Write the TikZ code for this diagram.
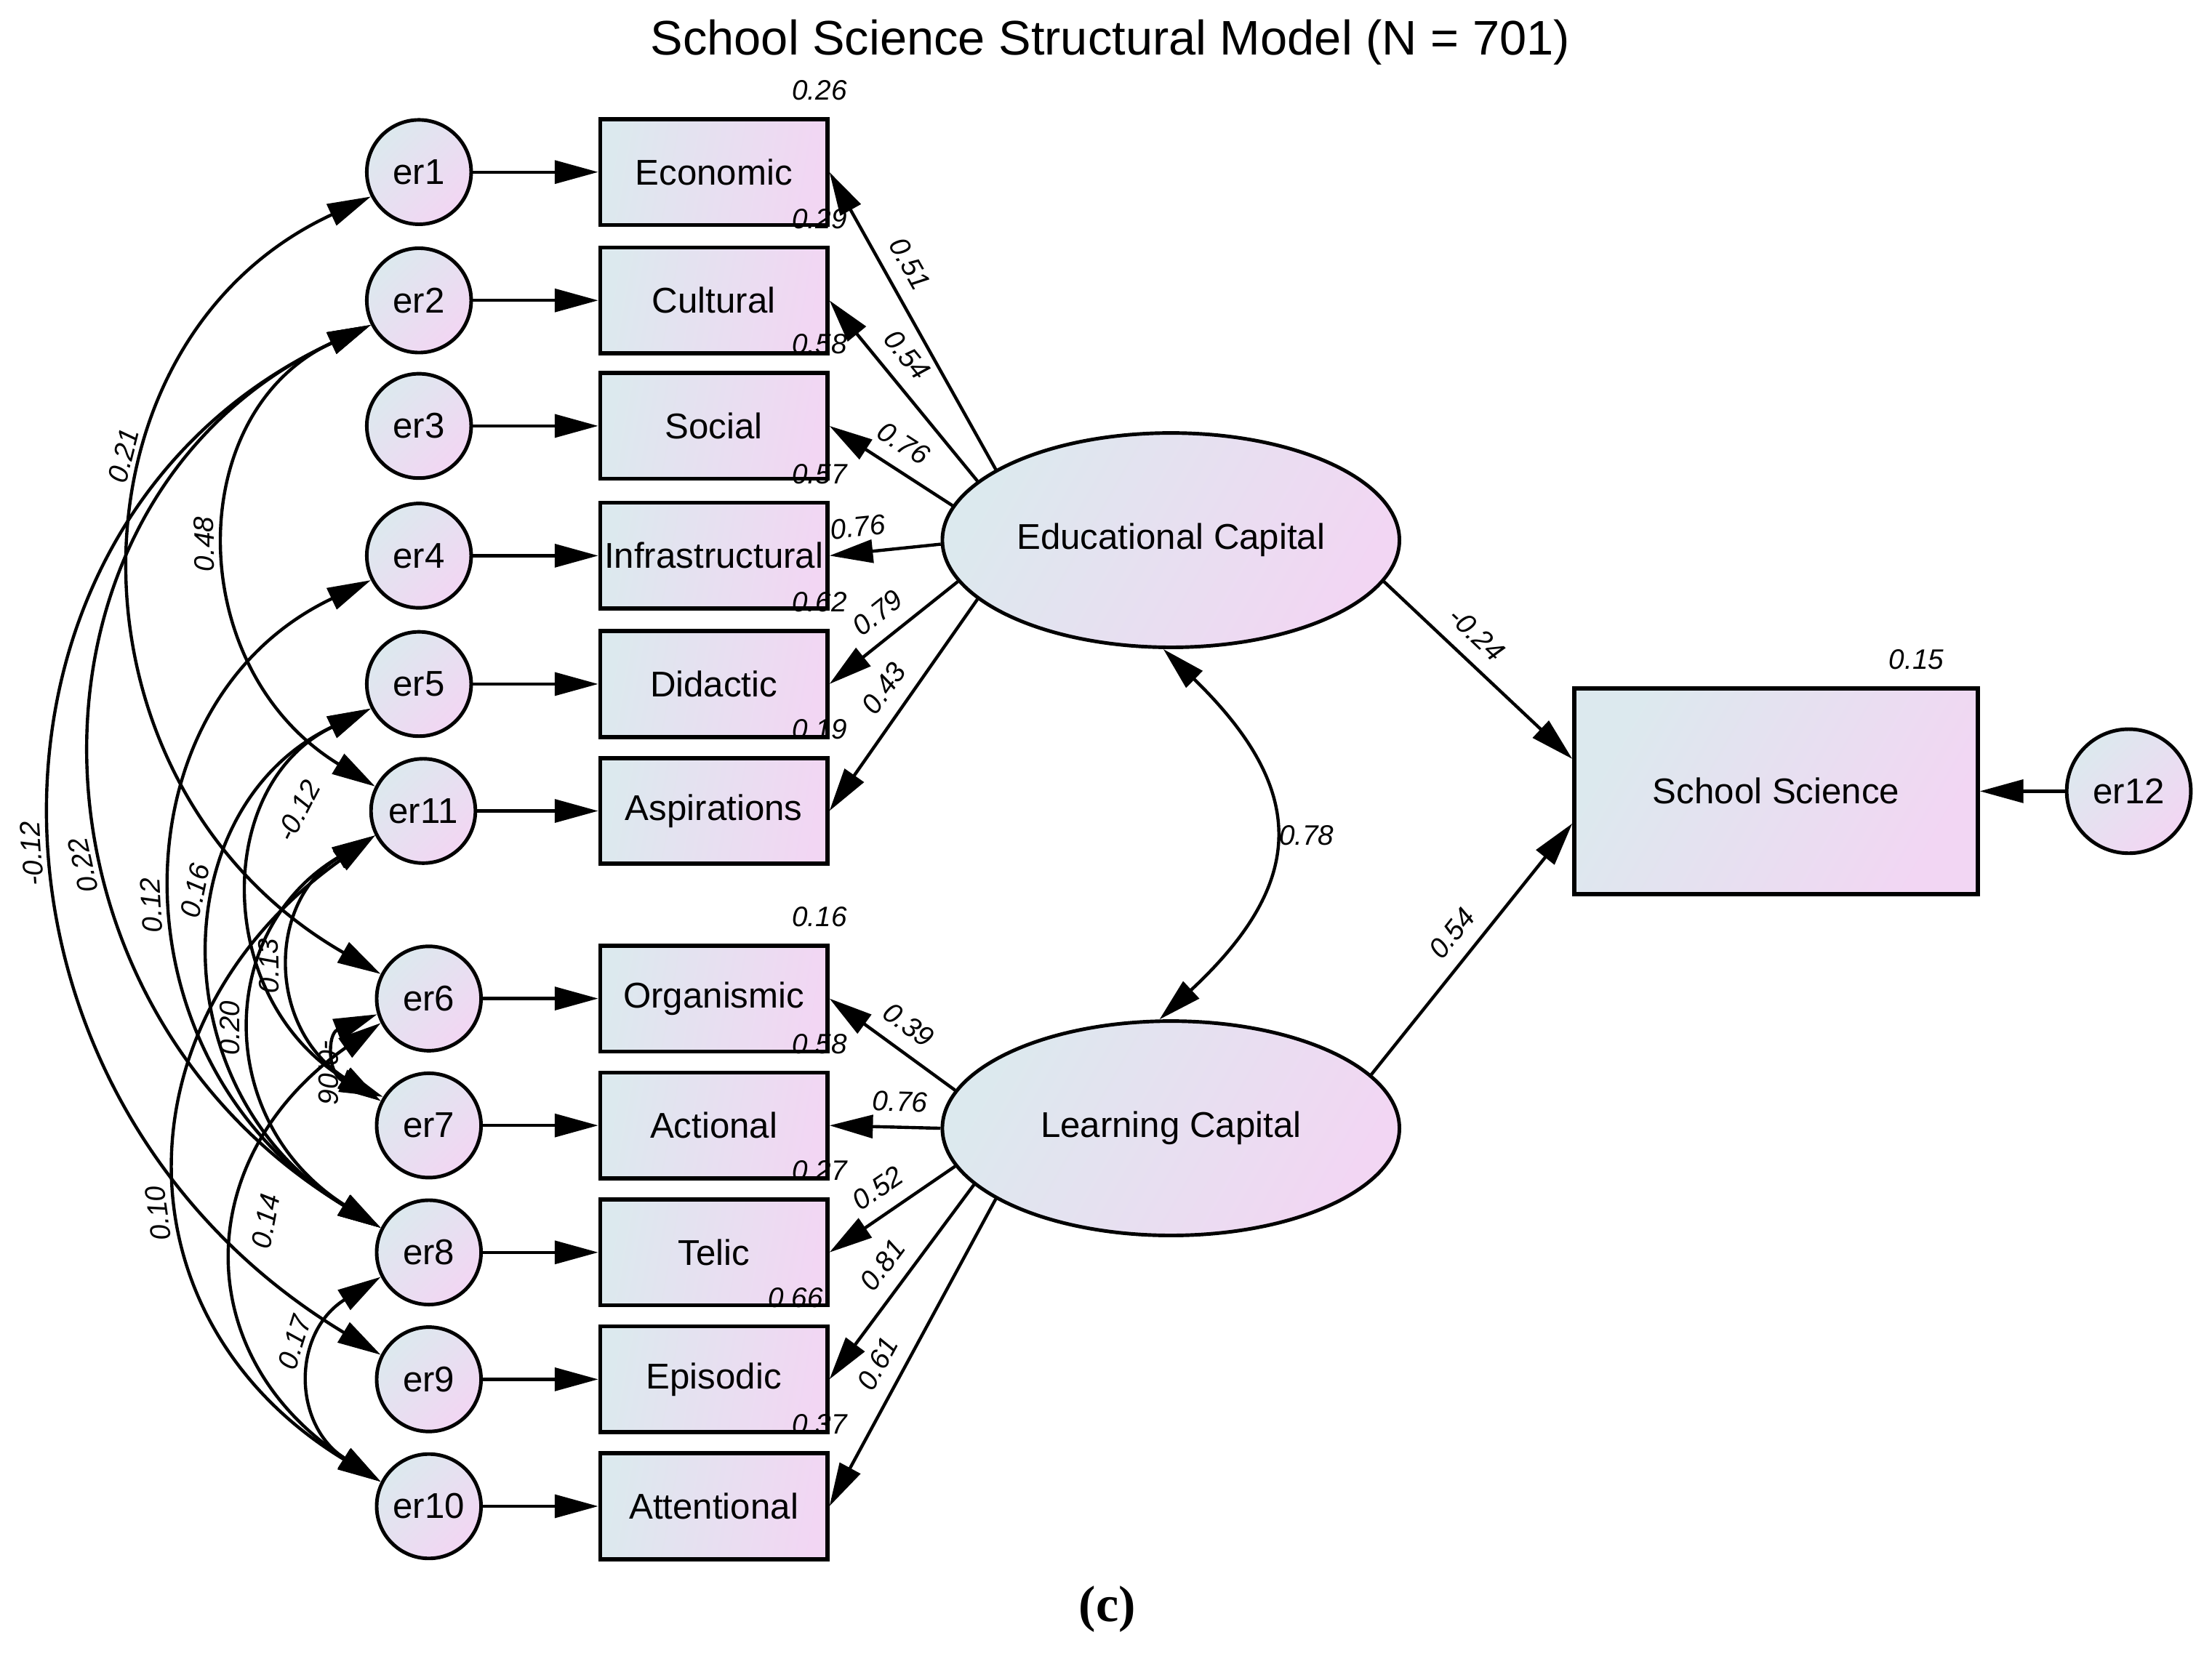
\documentclass[tikz,border=0pt]{standalone}
\usepackage{fontspec}
\setmainfont{Liberation Sans}
\newfontfamily\capfont{Liberation Serif}
\usetikzlibrary{arrows.meta,shapes.geometric}

\newlength{\pxl}
\setlength{\pxl}{0.0194cm}
\definecolor{amosblue}{RGB}{220,233,238}
\definecolor{amospink}{RGB}{242,214,243}

\tikzset{
  arr/.style={->, line width=1.25pt},
  cov/.style={<->, line width=1.25pt},
  obs/.style={draw, line width=1.6pt, minimum width=161\pxl, minimum height=75\pxl, inner sep=0pt,
    left color=amosblue, right color=amospink, shading angle=80, font=\fontsize{14}{16}\selectfont},
  errc/.style={circle, draw, line width=1.4pt, minimum size=74\pxl, inner sep=0pt,
    left color=amosblue, right color=amospink, shading angle=45, font=\fontsize{14}{16}\selectfont},
  latent/.style={ellipse, draw, line width=1.4pt, minimum width=324\pxl, minimum height=152\pxl, inner sep=0pt,
    left color=amosblue, right color=amospink, shading angle=60, font=\fontsize{14}{16}\selectfont},
  coef/.style={font=\fontsize{11}{13}\selectfont\itshape, inner sep=2.5pt},
  covlab/.style={coef, sloped, allow upside down},
}

\begin{document}
\begin{tikzpicture}[x=0.0194cm, y=-0.0194cm, >={Triangle[length=17pt,width=9pt]}]
\useasboundingbox (0,0) rectangle (1568,1174);

\node[font=\fontsize{19}{22}\selectfont] (title) at (787,30) {School Science Structural Model (N = 701)};

% measured variables and their errors
\foreach \er/\ob/\txt/\y/\x in {er1/eco/Economic/122/297, er2/cul/Cultural/213/297, er3/soc/Social/302/297,
    er4/inf/Infrastructural/394/297, er5/did/Didactic/485/297, er11/asp/Aspirations/575/300,
    er6/org/Organismic/708/304, er7/act/Actional/798/304, er8/tel/Telic/888/304,
    er9/epi/Episodic/978/304, er10/att/Attentional/1068/304}
{
  \node[errc] (\er) at (\x,\y) {\er};
  \node[obs] (\ob) at (506,\y) {\txt};
  \draw[arr] (\er) -- (\ob);
}

% squared multiple correlations
\foreach \ob/\v/\dx in {eco/0.26/7, cul/0.29/7, soc/0.58/7, inf/0.57/7, did/0.62/7, asp/0.19/7,
    org/0.16/7, act/0.58/7, tel/0.27/7, epi/0.66/24, att/0.37/7}
  \node[coef] (r\ob) at ([xshift=-\dx\pxl, yshift=19\pxl]\ob.north east) {\v};

% latent variables and outcome
\node[latent] (EC) at (830,383) {Educational Capital};
\node[latent] (LC) at (830,800) {Learning Capital};
\node[obs, minimum width=286\pxl, minimum height=146\pxl, shading angle=60] (SS) at (1259,561) {School Science};
\node[errc, minimum size=88\pxl] (er12) at (1509,561) {er12};
\node[coef] (rSS) at ([xshift=-45\pxl, yshift=19\pxl]SS.north east) {0.15};

% loadings
\foreach \ob/\a/\v/\p in {eco/158/0.51/0.65, cul/163/0.54/0.61, soc/171/0.76/0.51,
    inf/181/0.76/0.72, did/191/0.79/0.5, asp/197/0.43/0.49}
  \draw[arr] (EC.\a) -- node[coef, sloped, above=3pt, pos=\p] (l\ob) {\v} (\ob.east);
\foreach \ob/\a/\v/\p in {org/170/0.39/0.49, act/180/0.76/0.37, tel/190/0.52/0.5,
    epi/196/0.81/0.49, att/202/0.61/0.575}
  \draw[arr] (LC.\a) -- node[coef, sloped, above=3pt, pos=\p] (l\ob) {\v} (\ob.east);

% structural paths
\draw[arr] (EC.349) -- node[coef, sloped, above=3pt, pos=.4] (lec) {-0.24} (SS.171);
\draw[arr] (LC.15) -- node[coef, sloped, above=3pt, pos=.5] (llc) {0.54} (SS.189);
\draw[arr] (er12) -- (SS);
\draw[cov] (LC.96) .. controls (927,625) and (927,560) .. node[coef, right, pos=.5] (lcov) {0.78} (EC.266);

% error covariances
\node[coef, rotate=-90] (cj) at (233,760) {-0.06};
\draw[cov] (er7.148) .. controls (232,762) and (232,733) .. (er6.197);
\draw[cov] (er6.153) .. controls (39,558) and (39,243) .. node[covlab, above=3pt, pos=.62] (ca) {0.21} (er1.207);
\draw[cov] (er11.153) .. controls (129,474) and (129,292) .. node[covlab, above=3pt, pos=.5] (cb) {0.48} (er2.207);
\draw[cov] (er9.153) .. controls (-36,776) and (-36,369) .. node[covlab, above=3pt, pos=.47] (cc) {-0.12} (er2.207);
\draw[cov] (er8.153) .. controls (2,708) and (2,351) .. node[covlab, above=3pt, pos=.40] (cd) {0.22} (er2.207);
\draw[cov] (er8.153) .. controls (78,754) and (78,499) .. node[covlab, above=3pt, pos=.48] (ce) {0.12} (er4.207);
\draw[cov] (er8.153) .. controls (114,776) and (114,573) .. node[covlab, above=3pt, pos=.6] (cf) {0.16} (er5.207);
\draw[cov] (er7.153) .. controls (151,708) and (151,556) .. node[covlab, below=3pt, pos=.72] (cg) {-0.12} (er5.207);
\draw[cov] (er8.153) .. controls (152,796) and (152,660) .. node[covlab, above=3pt, pos=.5] (ch) {0.20} (er11.207);
\draw[cov] (er7.153) .. controls (189,729) and (189,639) .. node[covlab, above=3pt, pos=.5] (ci) {0.13} (er11.207);
\draw[cov] (er10.153) .. controls (81,936) and (81,724) .. node[covlab, above=3pt, pos=.44] (ck) {0.10} (er11.207);
\draw[cov] (er10.153) .. controls (134,962) and (134,821) .. node[covlab, below=3pt, pos=.58] (cl) {0.14} (er6.207);
\draw[cov] (er10.153) .. controls (207,1010) and (207,945) .. node[covlab, above=3pt, pos=.63] (cm) {0.17} (er8.207);

\node[font=\capfont\bfseries\fontsize{20}{24}\selectfont] (cap) at (785,1141) {(c)};
\end{tikzpicture}
\end{document}
